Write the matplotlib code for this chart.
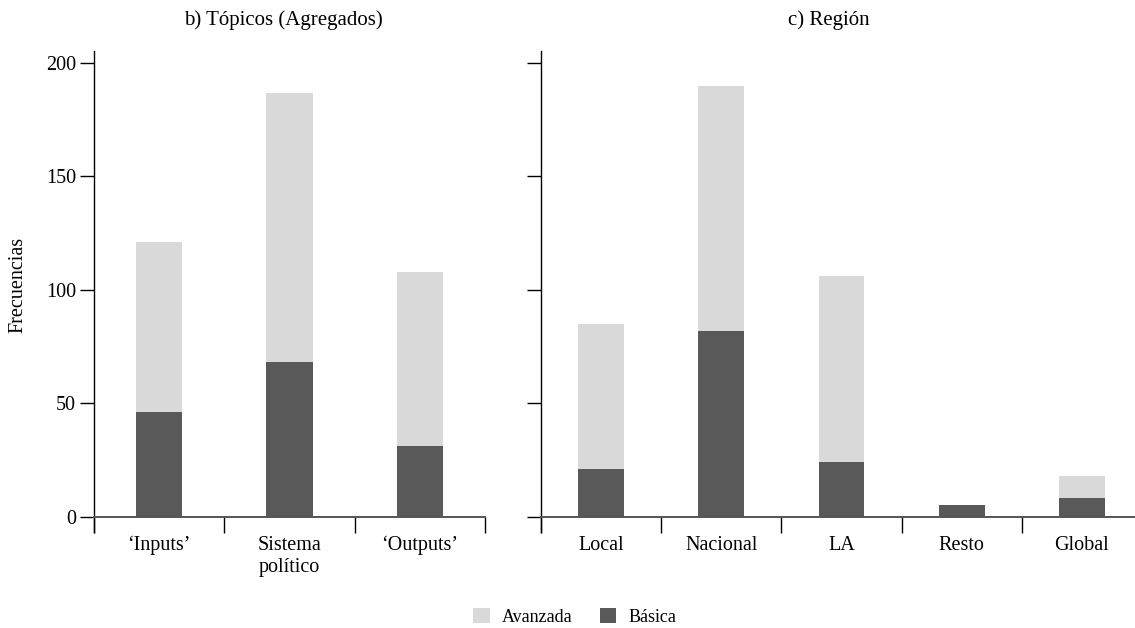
import matplotlib.pyplot as plt
import numpy as np

plt.rcParams["font.family"] = ["Liberation Serif", "DejaVu Serif"]

# datos
topicos = ["\u2018Inputs\u2019", "Sistema\npol\u00edtico", "\u2018Outputs\u2019"]
topicos_basica = [46, 68, 31]
topicos_avanzada = [75, 119, 77]

regiones = ["Local", "Nacional", "LA", "Resto", "Global"]
region_basica = [21, 82, 24, 5, 8]
region_avanzada = [64, 108, 82, 0, 10]

c_basica = "#595959"
c_avanzada = "#d9d9d9"

fig = plt.figure(figsize=(11.35, 6.28), dpi=100)
W, H = 1135, 628
bottom, top = 532, 51
ax1 = fig.add_axes([94 / W, 1 - bottom / H, (485 - 94) / W, (bottom - top) / H])
ax2 = fig.add_axes([541 / W, 1 - bottom / H, (1142 - 541) / W, (bottom - top) / H])


def panel(ax, cats, basica, avanzada, width, labels=True):
    x = np.arange(len(cats)) + 0.5
    ax.bar(x, basica, width, color=c_basica, label="B\u00e1sica")
    ax.bar(x, avanzada, width, bottom=basica, color=c_avanzada, label="Avanzada")
    ax.set_xlim(0, len(cats))
    ax.set_ylim(-6.8, 205.3)
    ax.spines["top"].set_visible(False)
    ax.spines["right"].set_visible(False)
    ax.spines["bottom"].set_position(("data", 0))
    ax.spines["bottom"].set_color("#555555")
    ax.spines["bottom"].set_linewidth(1.4)
    ax.spines["left"].set_linewidth(1.0)
    ax.set_xticks(np.arange(len(cats) + 1))
    ax.set_xticklabels([])
    ax.set_xticks(x, minor=True)
    ax.set_xticklabels(cats, minor=True, fontsize=14.5)
    ax.tick_params(axis="x", which="major", length=11.5, width=1.0, direction="out")
    ax.tick_params(axis="x", which="minor", length=0, pad=14)
    ax.set_yticks([0, 50, 100, 150, 200])
    ax.tick_params(axis="y", length=10, width=1.0, labelsize=14.5, pad=3)
    if not labels:
        ax.set_yticklabels([])


panel(ax1, topicos, topicos_basica, topicos_avanzada, 0.354)
panel(ax2, regiones, region_basica, region_avanzada, 0.38, labels=False)

fig.text(283 / W, 1 - 20 / H, "b) T\u00f3picos (Agregados)", ha="center", va="center", fontsize=15)
fig.text(829 / W, 1 - 20 / H, "c) Regi\u00f3n", ha="center", va="center", fontsize=15)
fig.text(18 / W, 1 - 285 / H, "Frecuencias", rotation=90, ha="center", va="center", fontsize=14.5)

h, l = ax1.get_legend_handles_labels()
fig.legend(h[::-1], l[::-1], loc="center", bbox_to_anchor=(575 / W, 1 - 617 / H),
           ncol=2, frameon=False, fontsize=13, handlelength=0.9, handleheight=0.9,
           handletextpad=0.7, columnspacing=1.5)

fig.savefig("out.png", dpi=100)
